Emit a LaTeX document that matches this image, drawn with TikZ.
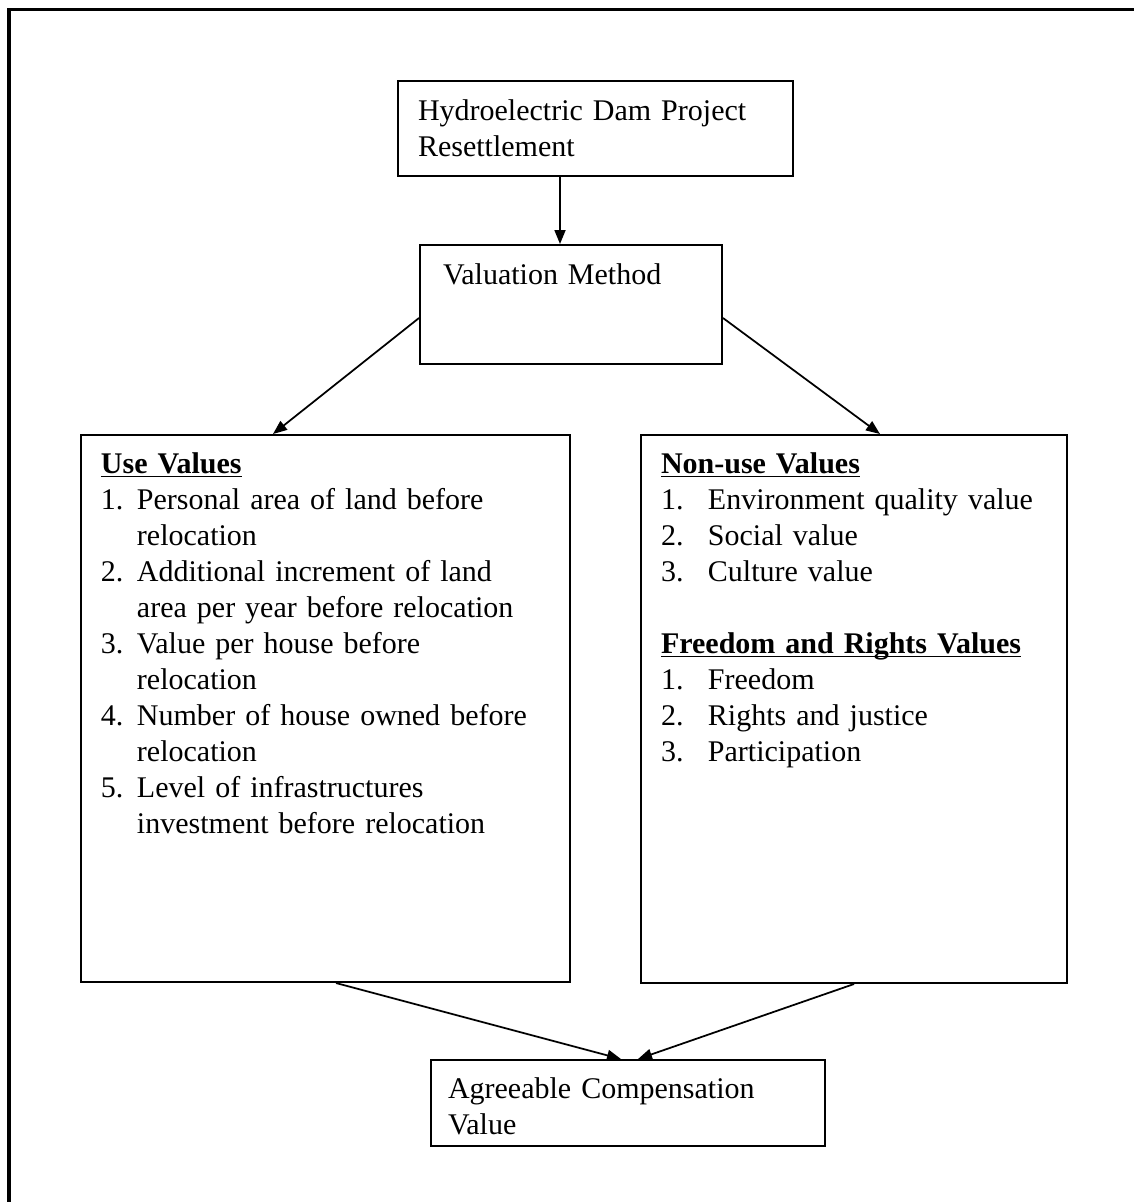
\documentclass[tikz,border=0pt]{standalone}
\usepackage{fontspec}
\setmainfont{Liberation Serif}
\usetikzlibrary{positioning,arrows.meta}
\newcommand{\numcol}[2]{\makebox[#1][l]{#2}}
\newcommand{\headline}[1]{\underline{\smash{\textbf{#1}}}}

\begin{document}
\begin{tikzpicture}[x=0.4pt, y=-0.4pt,
	every node/.style={font=\fontsize{12pt}{14.4pt}\selectfont,
					   align=left,
					   inner ysep=0pt
					   },
	box/.style={draw,
				line width=0.8pt
	},
	flow/.style={-{Triangle[length=5.6pt,width=4.4pt]},
				 line width=0.7pt
	}
]
	\useasboundingbox (0,0) rectangle (1134,1202);
	\draw[line width=1.2pt] (9,1202) -- (9,9) -- (1134,9);
	\node (hydro) [box, anchor=north west, text width=142pt, inner xsep=8pt,
		text height=15.6pt, text depth=22.4pt] at (397,80)
		{Hydroelectric Dam Project\\Resettlement};
	\node (method) [box, below right=26.8pt and 8.8pt of hydro.south west,
		text width=102.4pt, inner xsep=9.2pt, text height=15.6pt, text depth=32pt]
		{Valuation Method};
	\node (use) [box, below=27.6pt of method.south west, xshift=-135.6pt, anchor=north west,
		text width=179.6pt, inner xsep=8pt, text height=15.2pt, text depth=203.6pt]
		{\headline{Use Values}\\
		 \numcol{14.4pt}{1.}Personal area of land before\\
		 \hspace*{14.4pt}relocation\\
		 \numcol{14.4pt}{2.}Additional increment of land\\
		 \hspace*{14.4pt}area per year before relocation\\
		 \numcol{14.4pt}{3.}Value per house before\\
		 \hspace*{14.4pt}relocation\\
		 \numcol{14.4pt}{4.}Number of house owned before\\
		 \hspace*{14.4pt}relocation\\
		 \numcol{14.4pt}{5.}Level of infrastructures\\
		 \hspace*{14.4pt}investment before relocation};
	\node (nonuse) [box, right=27.6pt of use.north east, anchor=north west,
		text width=154.4pt, inner xsep=8pt, text height=15.2pt, text depth=204pt]
		{\headline{Non-use Values}\\
		 \numcol{18.8pt}{1.}Environment quality value\\
		 \numcol{18.8pt}{2.}Social value\\
		 \numcol{18.8pt}{3.}Culture value\\[14.4pt]
		 \headline{Freedom and Rights Values}\\
		 \numcol{18.8pt}{1.}Freedom\\
		 \numcol{18.8pt}{2.}Rights and justice\\
		 \numcol{18.8pt}{3.}Participation};
	\node (agree) [box, below=30.4pt of use.south west, xshift=140pt, anchor=north west,
		text width=144pt, inner xsep=6.8pt, text height=15.2pt, text depth=19.2pt]
		{Agreeable Compensation\\Value};
	\draw[flow] ([xshift=-14.2pt]hydro.south) -- ([xshift=-4.4pt]method.north);
	\draw[flow] ([yshift=-5.4pt]method.west) -- ([xshift=-21pt]use.north);
	\draw[flow] ([yshift=-5.4pt]method.east) -- ([xshift=10.4pt]nonuse.north);
	\draw[flow] ([xshift=4.2pt]use.south) -- ([xshift=-2.8pt]agree.north);
	\draw[flow] (nonuse.south) -- ([xshift=4pt]agree.north);
\end{tikzpicture}
\end{document}
